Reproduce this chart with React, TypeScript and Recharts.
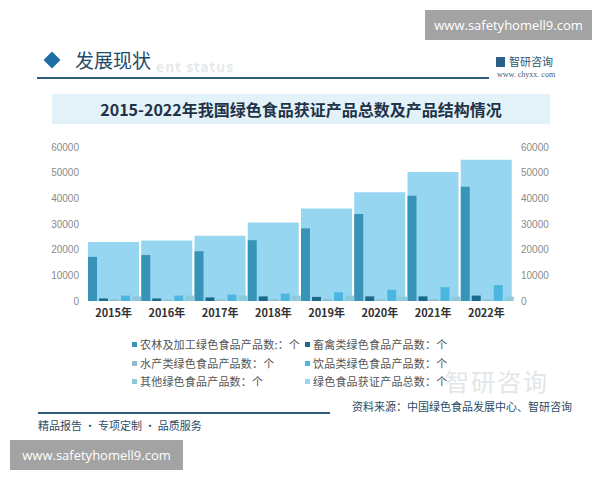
import { BarChart, Bar, XAxis, YAxis, Legend } from 'recharts';

const years = ['2015年', '2016年', '2017年', '2018年', '2019年', '2020年', '2021年', '2022年'];
const farmProducts = [17200, 17900, 19400, 23700, 28300, 33900, 41000, 44500];
const livestockProducts = [1000, 1000, 1400, 1800, 1600, 1800, 1800, 2100];
const aquaticProducts = [600, 500, 600, 600, 700, 600, 600, 600];
const drinkProducts = [2100, 2100, 2500, 2900, 3400, 4400, 5400, 6200];
const otherProducts = [1800, 2100, 2100, 2100, 2100, 1700, 1700, 1700];
const totalProducts = [23000, 23600, 25400, 30600, 36000, 42400, 50300, 55000];
const yTicks = [0, 10000, 20000, 30000, 40000, 50000, 60000];

const series = [
  { key: 'farm', name: '农林及加工绿色食品产品数:：个', color: '#3893b9' },
  { key: 'livestock', name: '畜禽类绿色食品产品数：个', color: '#1b6a8c' },
  { key: 'aquatic', name: '水产类绿色食品产品数：个', color: '#8fbccb' },
  { key: 'drink', name: '饮品类绿色食品产品数：个', color: '#4cb6e1' },
  { key: 'other', name: '其他绿色食品产品数：个', color: '#8ecadb' },
  { key: 'total', name: '绿色食品获证产品总数：个', color: '#97d6f0' },
];

const data = years.map((year, i) => ({
  year,
  farm: farmProducts[i],
  livestock: livestockProducts[i],
  aquatic: aquaticProducts[i],
  drink: drinkProducts[i],
  other: otherProducts[i],
  total: totalProducts[i],
}));

const font = '"Noto Sans CJK SC", "Noto Sans", sans-serif';

// legend laid out in two columns like the original
const legendOrder = ['farm', 'livestock', 'aquatic', 'drink', 'other', 'total'];

const LegendGrid = () => (
  <div style={{ display: 'grid', gridTemplateColumns: '173px 200px', rowGap: 5.5, fontFamily: font }}>
    {legendOrder.map(k => {
      const s = series.find(x => x.key === k)!;
      return (
        <div key={k} style={{ display: 'flex', alignItems: 'center', fontSize: 11, color: '#555', letterSpacing: 0.2, lineHeight: '13px', whiteSpace: 'nowrap' }}>
          <span style={{ width: 5, height: 5, background: s.color, marginRight: 3, display: 'inline-block', flex: 'none' }} />
          {s.name}
        </div>
      );
    })}
  </div>
);

const App = () => {
  return (
    <div style={{ position: 'absolute', left: 0, top: 0, width: 600, height: 480, background: '#fff', overflow: 'hidden', fontFamily: font }}>
      {/* top watermark box */}
      <div style={{ position: 'absolute', left: 425, top: 10, width: 167, height: 30, background: '#a3a3a3', color: '#fff', fontSize: 13, lineHeight: '30px', textAlign: 'center', fontFamily: '"Open Sans", sans-serif' }}>
        www.safetyhomell9.com
      </div>

      {/* header */}
      <div style={{ position: 'absolute', left: 46, top: 54, width: 12, height: 12, background: '#1f6ea3', transform: 'rotate(45deg)' }} />
      <div style={{ position: 'absolute', left: 156, top: 56, fontSize: 14, fontWeight: 700, color: '#e6e9ec', letterSpacing: 1 }}>ent status</div>
      <div style={{ position: 'absolute', left: 75, top: 47, fontSize: 19, color: '#1d4a6a', lineHeight: '26px' }}>发展现状</div>
      <div style={{ position: 'absolute', left: 37, top: 77, width: 452, height: 1.5, background: '#2f5d78' }} />
      <div style={{ position: 'absolute', left: 496, top: 54, fontSize: 11, color: '#2f5670', lineHeight: '14px' }}>
        <span style={{ display: 'inline-block', width: 9, height: 10, background: '#2a5f86', marginRight: 4, verticalAlign: -1 }} />
        智研咨询
      </div>
      <div style={{ position: 'absolute', left: 497, top: 70, fontSize: 8, color: '#555', fontFamily: '"Liberation Serif", serif' }}>www. chyxx. com</div>

      {/* title band */}
      <div style={{ position: 'absolute', left: 52, top: 94, width: 498, height: 30, background: '#e3f1f9', color: '#1e3348', fontSize: 16, fontWeight: 700, lineHeight: '30px', textAlign: 'center' }}>
        2015-2022年我国绿色食品获证产品总数及产品结构情况
      </div>

      {/* faint logo watermark */}
      <div style={{ position: 'absolute', left: 445, top: 366, fontSize: 24, lineHeight: '30px', color: '#e2e6e9', letterSpacing: 2 }}>智研咨询</div>

      <div style={{ position: 'absolute', left: 0, top: 0 }}>
        <BarChart
          width={600}
          height={480}
          data={data}
          margin={{ top: 147, right: 27, left: 27, bottom: 149 }}
          barCategoryGap={1}
          barGap={2}
        >
          <XAxis dataKey="year" axisLine={false} tickLine={false} interval={0}
            tick={{ fill: '#333', fontSize: 11, fontWeight: 700, fontFamily: font }} />
          <XAxis xAxisId="t" dataKey="year" hide />
          <YAxis yAxisId="left" domain={[0, 60000]} ticks={yTicks} axisLine={false} tickLine={false} width={60}
            tick={{ fill: '#8a8a8a', fontSize: 10, fontFamily: '"Liberation Sans", sans-serif' }} />
          <YAxis yAxisId="right" orientation="right" domain={[0, 60000]} ticks={yTicks} axisLine={false} tickLine={false} width={60}
            tick={{ fill: '#8a8a8a', fontSize: 10, fontFamily: '"Liberation Sans", sans-serif', textAnchor: 'start' }} />
          <Bar xAxisId="t" yAxisId="right" dataKey="total" name={series[5].name} fill={series[5].color} isAnimationActive={false} />
          {series.slice(0, 5).map(s => (
            <Bar key={s.key} yAxisId="left" dataKey={s.key} name={s.name} fill={s.color} isAnimationActive={false} />
          ))}
          <Legend layout="horizontal" verticalAlign="middle" align="center" content={<LegendGrid />}
            wrapperStyle={{ top: 338, left: 132, width: 390 }} />
        </BarChart>
      </div>

      {/* footer */}
      <div style={{ position: 'absolute', left: 38, top: 412, width: 292, height: 1.5, background: '#2f5d78' }} />
      <div style={{ position: 'absolute', left: 352, top: 398, fontSize: 11, color: '#2b4c66' }}>资料来源：中国绿色食品发展中心、智研咨询</div>
      <div style={{ position: 'absolute', left: 38, top: 417, fontSize: 11, color: '#2b4c66' }}>精品报告 · 专项定制 · 品质服务</div>

      {/* bottom watermark box */}
      <div style={{ position: 'absolute', left: 10, top: 440, width: 173, height: 30, background: '#a3a3a3', color: '#fff', fontSize: 13, lineHeight: '30px', textAlign: 'center', fontFamily: '"Open Sans", sans-serif' }}>
        www.safetyhomell9.com
      </div>
    </div>
  );
};

export default App;
